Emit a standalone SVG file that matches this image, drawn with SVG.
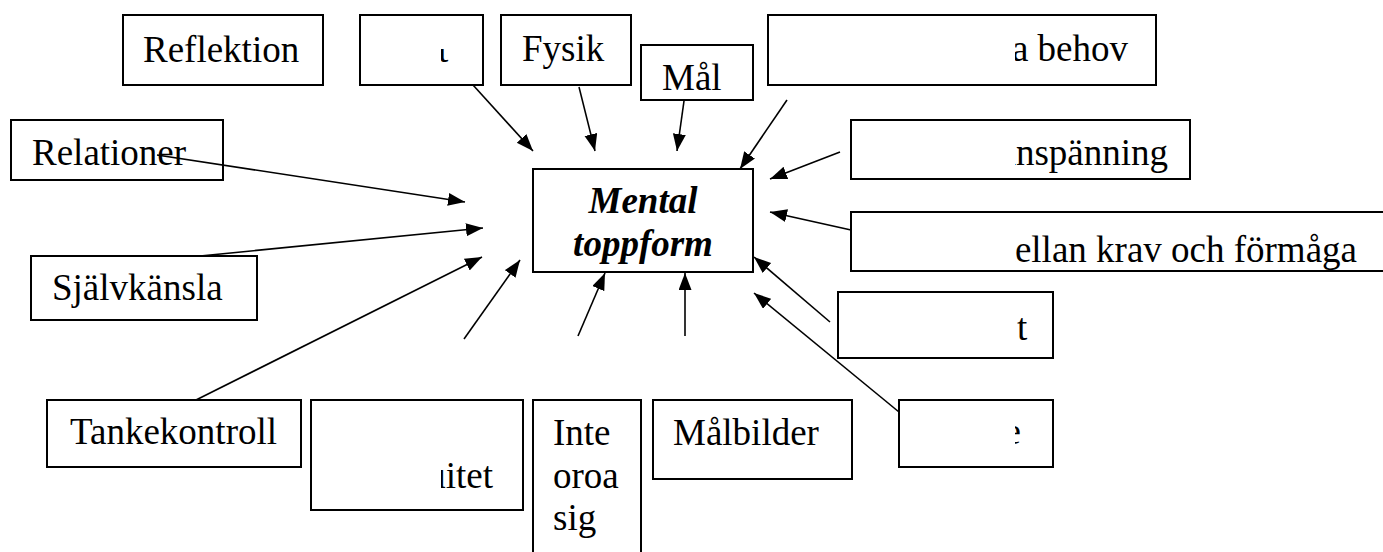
<svg xmlns="http://www.w3.org/2000/svg" width="1383" height="552" viewBox="0 0 1383 552">
<style>
.box{fill:#fff;stroke:#000;stroke-width:2}
.c{stroke:#000;stroke-width:1.6;fill:none;marker-end:url(#ah)}
</style>
<defs>
<marker id="ah" markerUnits="userSpaceOnUse" markerWidth="18" markerHeight="14" refX="17" refY="6.5" orient="auto">
<path d="M0,0 L17,6.5 L0,13 z" fill="#000"/>
</marker>
<clipPath id="clipR"><rect x="1015" y="0" width="368" height="552"/></clipPath>
<clipPath id="clipL"><rect x="441" y="0" width="100" height="552"/></clipPath>
<clipPath id="clipB2"><rect x="441" y="49" width="8" height="16"/></clipPath>
</defs>
<rect width="1383" height="552" fill="#fff"/>
<g font-family="Liberation Serif, Times New Roman, serif" font-size="37" fill="#000">
<g id="n-reflektion"><rect class="box" x="123" y="15" width="200" height="70"/><text x="143" y="62">Reflektion</text></g>
<g id="n-box2"><rect class="box" x="360" y="15" width="123" height="70"/><text x="438" y="62" clip-path="url(#clipB2)">t</text></g>
<g id="n-fysik"><rect class="box" x="501" y="15" width="130" height="70"/><text x="522" y="61">Fysik</text></g>
<g id="n-mal"><rect class="box" x="641" y="45" width="112" height="55"/><text x="662" y="90">Mål</text></g>
<g id="n-behov"><rect class="box" x="768" y="15" width="388" height="70"/><text x="1128" y="61" text-anchor="end" clip-path="url(#clipR)">a behov</text></g>
<g id="n-relationer"><rect class="box" x="11" y="120" width="212" height="60"/><text x="32" y="165">Relationer</text></g>
<g id="n-anspanning"><rect class="box" x="851" y="120" width="339" height="59"/><text x="1168" y="165" text-anchor="end" clip-path="url(#clipR)">anspänning</text></g>
<g id="n-mental"><rect class="box" x="533" y="169" width="220" height="103"/><text x="643" y="213" text-anchor="middle" font-weight="bold" font-style="italic">Mental</text><text x="643" y="256" text-anchor="middle" font-weight="bold" font-style="italic">toppform</text></g>
<g id="n-balans"><rect class="box" x="851" y="212" width="545" height="59"/><text x="1357" y="262" text-anchor="end" clip-path="url(#clipR)">mellan krav och förmåga</text></g>
<g id="n-sjalvkansla"><rect class="box" x="31" y="256" width="226" height="64"/><text x="52" y="300">Självkänsla</text></g>
<g id="n-t"><rect class="box" x="838" y="292" width="215" height="66"/><text x="1017" y="340">t</text></g>
<g id="n-tankekontroll"><rect class="box" x="47" y="400" width="254" height="67"/><text x="70" y="444">Tankekontroll</text></g>
<g id="n-itet"><rect class="box" x="311" y="400" width="212" height="110"/><text x="493" y="488" text-anchor="end" clip-path="url(#clipL)">uitet</text></g>
<g id="n-inte"><rect class="box" x="533" y="400" width="108" height="160"/><text x="553" y="445">Inte</text><text x="553" y="488">oroa</text><text x="553" y="530">sig</text></g>
<g id="n-malbilder"><rect class="box" x="653" y="400" width="199" height="79"/><text x="673" y="445">Målbilder</text></g>
<g id="n-br"><rect class="box" x="899" y="400" width="154" height="67"/><text x="1021" y="444" text-anchor="end" clip-path="url(#clipR)">e</text></g>
</g>
<g id="connectors">
<line class="c" x1="473" y1="85" x2="533" y2="151"/>
<line class="c" x1="579" y1="87" x2="595" y2="151"/>
<line class="c" x1="684" y1="101" x2="677" y2="151"/>
<line class="c" x1="787" y1="100" x2="740" y2="169"/>
<line class="c" x1="840" y1="152" x2="770" y2="179"/>
<line class="c" x1="851" y1="230" x2="770" y2="212"/>
<line class="c" x1="830" y1="322" x2="754" y2="257"/>
<line class="c" x1="899" y1="412" x2="754" y2="293"/>
<line class="c" x1="685" y1="336" x2="685" y2="273"/>
<line class="c" x1="578" y1="336" x2="605" y2="273"/>
<line class="c" x1="464" y1="339" x2="520" y2="260"/>
<line class="c" x1="196" y1="400" x2="482" y2="257"/>
<line class="c" x1="200" y1="256" x2="483" y2="228"/>
<line class="c" x1="157" y1="155" x2="465" y2="202"/>
</g>
</svg>
